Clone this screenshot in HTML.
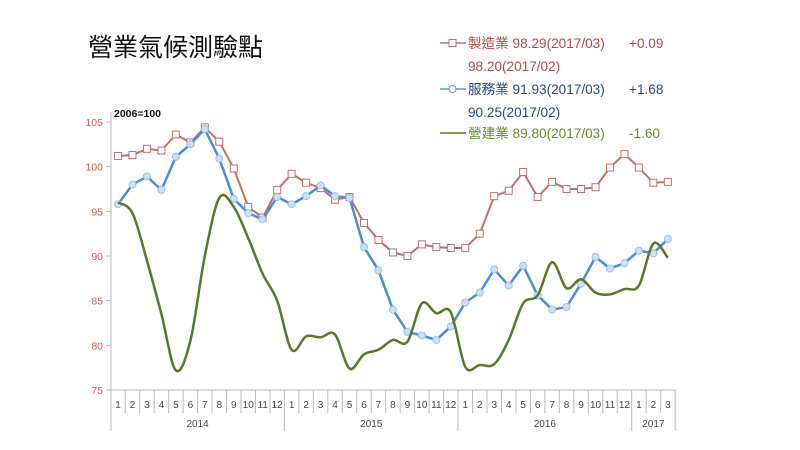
<!DOCTYPE html>
<html><head><meta charset="utf-8"><style>
body{margin:0;background:#fff;width:800px;height:450px;overflow:hidden;font-family:"Liberation Sans","Noto Sans CJK TC",sans-serif}
</style></head><body>
<svg id="s" width="800" height="450" xmlns="http://www.w3.org/2000/svg" style="position:absolute;left:0;top:0">
<text x="88" y="56" font-size="25" font-family="'Noto Sans CJK TC',sans-serif" fill="#111">營業氣候測驗點</text>
<text x="114" y="117" font-size="10.5" font-weight="bold" fill="#111">2006=100</text>
<g font-size="13.6" font-family="'Liberation Sans','Noto Sans CJK TC',sans-serif">
<line x1="440" y1="43" x2="466" y2="43" stroke="#c0706e" stroke-width="1.5"/><rect x="449" y="39.5" width="7" height="7" fill="#fff" stroke="#c0706e"/>
<text x="468" y="48" fill="#b14a48">製造業  98.29(2017/03)</text><text x="629" y="48" fill="#b14a48">+0.09</text>
<text x="468" y="71" fill="#b14a48">98.20(2017/02)</text>
<line x1="440" y1="89" x2="466" y2="89" stroke="#5b95d8" stroke-width="1.5"/><circle cx="452.5" cy="89" r="3.5" fill="#fff" stroke="#5b95d8"/>
<text x="468" y="94" fill="#2d4a78">服務業  91.93(2017/03)</text><text x="629" y="94" fill="#2d4a78">+1.68</text>
<text x="468" y="117" fill="#2d4a78">90.25(2017/02)</text>
<line x1="440" y1="133" x2="466" y2="133" stroke="#5a7a2a" stroke-width="1.5"/>
<text x="468" y="138" fill="#6a8a32">營建業  89.80(2017/03)</text><text x="629" y="138" fill="#6a8a32">-1.60</text>
</g>
<g id="ax"></g>
</svg>
<script>
var S=document.getElementById('ax'),ns='http://www.w3.org/2000/svg';
function el(t,a,txt){var e=document.createElementNS(ns,t);for(var k in a)e.setAttribute(k,a[k]);if(txt!=null)e.textContent=txt;S.appendChild(e);return e;}
function Y(v){return 390-(v-75)*8.933;}
var dx=14.47,x0=118;function X(i){return x0+i*dx;}
el('line',{x1:111,y1:112,x2:111,y2:431,stroke:'#bbb'});
el('line',{x1:111,y1:390,x2:676,y2:390,stroke:'#bbb'});
for(var v=75;v<=105;v+=5){el('line',{x1:106,y1:Y(v),x2:111,y2:Y(v),stroke:'#bbb'});el('text',{x:103,y:Y(v)+4,'font-size':10.5,fill:'#d0585a','text-anchor':'end'},v);}
for(var i=0;i<39;i++){var m=(i%12)+1;el('text',{x:X(i),y:408,'font-size':10,fill:'#444','text-anchor':'middle'},m);
var xb=X(i)+dx/2;var big=(i==11||i==23||i==35||i==38);el('line',{x1:xb,y1:390,x2:xb,y2:big?431:413,stroke:'#bbb'});}
el('text',{x:X(5.5),y:427,'font-size':10,fill:'#444','text-anchor':'middle'},'2014');
el('text',{x:X(17.5),y:427,'font-size':10,fill:'#444','text-anchor':'middle'},'2015');
el('text',{x:X(29.5),y:427,'font-size':10,fill:'#444','text-anchor':'middle'},'2016');
el('text',{x:X(37),y:427,'font-size':10,fill:'#444','text-anchor':'middle'},'2017');
var R=[101.2,101.3,102.0,101.8,103.6,102.7,104.4,102.8,99.8,95.5,94.3,97.4,99.2,98.2,97.6,96.3,96.6,93.7,91.8,90.4,90.0,91.3,91.0,90.9,90.9,92.5,96.7,97.3,99.4,96.6,98.3,97.5,97.5,97.7,99.9,101.4,99.9,98.2,98.3];
var B=[95.8,98.0,98.9,97.4,101.1,102.5,104.2,100.9,96.4,94.8,94.1,96.6,95.8,96.7,97.9,96.7,96.5,91.0,88.4,84.0,81.5,81.1,80.6,82.1,84.8,85.9,88.5,86.7,88.9,85.6,84.0,84.3,86.9,89.9,88.6,89.2,90.6,90.3,91.9];
var G=[96.0,94.8,89.5,83.5,77.2,80.5,90,96.5,95.5,92,88,85,79.5,81,80.9,81.2,77.4,79.0,79.5,80.6,80.4,84.7,83.6,83.7,77.6,77.8,77.9,80.6,84.7,85.6,89.3,86.4,87.4,85.9,85.7,86.3,86.7,91.4,89.8];
function poly(d){return d.map(function(v,i){return X(i)+','+Y(v)}).join(' ');}
function smooth(d){var p=d.map(function(v,i){return[X(i),Y(v)]});var s='M'+p[0];for(var i=0;i<p.length-1;i++){var a=p[i-1]||p[i],b=p[i],c=p[i+1],e=p[i+2]||c;s+=' C'+(b[0]+(c[0]-a[0])/6)+','+(b[1]+(c[1]-a[1])/6)+' '+(c[0]-(e[0]-b[0])/6)+','+(c[1]-(e[1]-b[1])/6)+' '+c[0]+','+c[1];}return s;}
el('polyline',{points:poly(R),fill:'none',stroke:'#c0706e','stroke-width':2});
R.forEach(function(v,i){el('rect',{x:X(i)-3.5,y:Y(v)-3.5,width:7,height:7,fill:'#fff',stroke:'#c0706e','stroke-width':1});});
el('polyline',{points:poly(B),fill:'none',stroke:'#4a8ddc','stroke-width':2.5});
B.forEach(function(v,i){el('circle',{cx:X(i),cy:Y(v),r:3.5,fill:'#cfe0f3',stroke:'#9cc0e8','stroke-width':1});});
el('path',{d:smooth(G),fill:'none',stroke:'#5a7a2a','stroke-width':2.5});
</script>
</body></html>
